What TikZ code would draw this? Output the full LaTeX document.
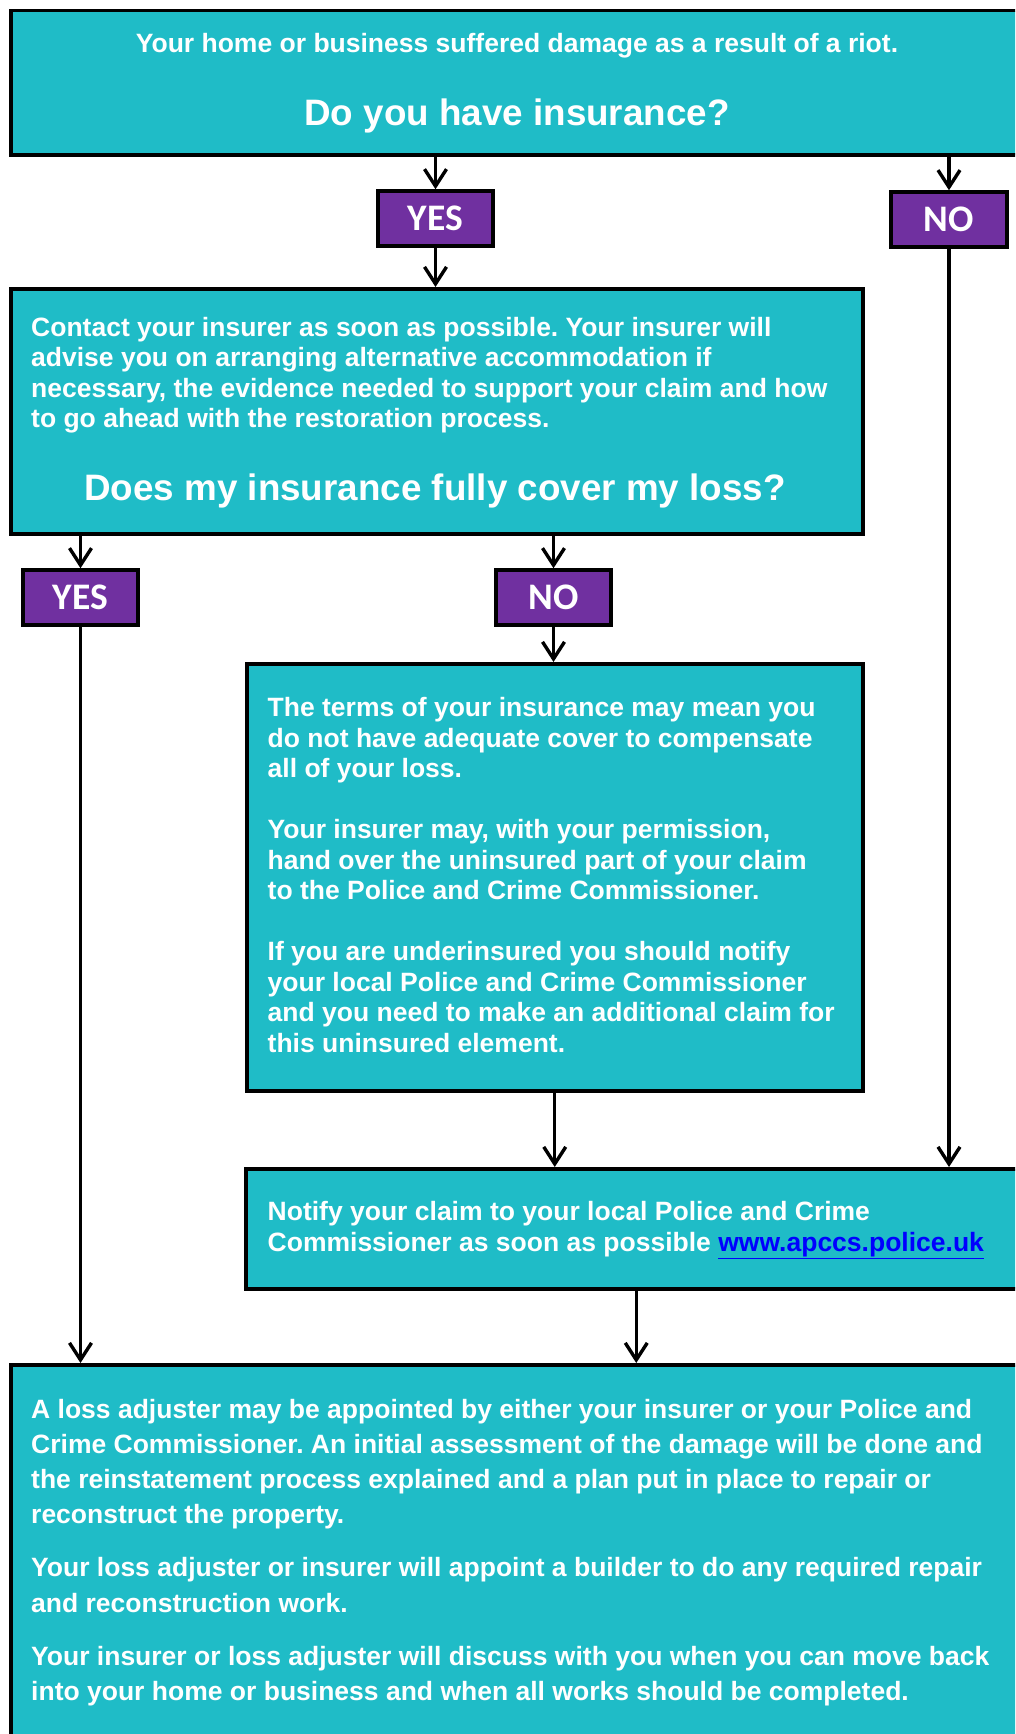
\documentclass[tikz,border=0pt]{standalone}
\usepackage{fontspec}
\setmainfont{Liberation Sans}
\newfontfamily\calibfont{Carlito}
\usetikzlibrary{arrows.meta}
\definecolor{tealbox}{RGB}{31,188,199}
\definecolor{purp}{RGB}{112,48,160}
\definecolor{linkblue}{RGB}{0,0,255}
\newcommand{\bodyfont}[1]{\fontsize{26.5}{#1}\selectfont\bfseries}
\newcommand{\bigq}{\fontsize{36.8}{40}\selectfont\bfseries}
\frenchspacing
\begin{document}
\begin{tikzpicture}[x=1pt,y=-1pt,
  box/.style={draw=black, line width=3.5pt, fill=tealbox, anchor=north west, inner sep=0pt},
  yn/.style={draw=black, line width=3.5pt, fill=purp, text=white,
    font={\calibfont\bfseries\fontsize{37.5}{40}\selectfont},
    minimum width=115pt, minimum height=55pt, inner sep=0pt,
    text height=24pt, text depth=0pt},
  txt/.style={text=white, inner sep=0pt},
  arr/.style={line width=3.4pt, -{Straight Barb[length=17pt,width=22pt,line width=3.4pt]}}]
\useasboundingbox (0,0) rectangle (1015,1734);
\clip (0,0) rectangle (1015,1734);
\fill[white] (0,0) rectangle (1015,1734);

% boxes
\node[box, minimum width=1016pt, minimum height=144pt] (top) at (9,9) {};
\node[box, minimum width=852pt, minimum height=245pt] (mid) at (9,287) {};
\node[box, minimum width=616pt, minimum height=427pt] (terms) at (245,662) {};
\node[box, minimum width=781pt, minimum height=120pt] (notify) at (244,1167) {};
\node[box, minimum width=1016pt, minimum height=400pt] (bottom) at (9,1363) {};

\node[yn] (yes1) at (435.5,218.5) {YES};
\node[yn, minimum width=116pt] (no1) at (949,219.5) {NO};
\node[yn] (yes2) at (80.5,597.5) {YES};
\node[yn] (no2) at (553.5,597.5) {NO};

% texts
\node[txt, anchor=base] (t1) at (517,53) {\bodyfont{30}Your home or business suffered damage as a result of a riot.};
\node[txt, anchor=base] (q1) at (517,126) {\bigq Do you have insurance?};

\node[txt, anchor=base west] (t2) at (31,336.7) {\parbox[t]{840pt}{\raggedright\bodyfont{30.2}%
Contact your insurer as soon as possible. Your insurer will\\
advise you on arranging alternative accommodation if\\
necessary, the evidence needed to support your claim and how\\
to go ahead with the restoration process.}};
\node[txt, anchor=base] (q2) at (435,500.7) {\bigq Does my insurance fully cover my loss?};

\node[txt, anchor=base west] (t3) at (267.5,716.7) {\parbox[t]{600pt}{\raggedright\bodyfont{30.5}%
The terms of your insurance may mean you\\
do not have adequate cover to compensate\\
all of your loss.\\[30.5pt]
Your insurer may, with your permission,\\
hand over the uninsured part of your claim\\
to the Police and Crime Commissioner.\\[30.5pt]
If you are underinsured you should notify\\
your local Police and Crime Commissioner\\
and you need to make an additional claim for\\
this uninsured element.}};

\node[txt, anchor=base west] (t4) at (267.5,1220) {\parbox[t]{760pt}{\raggedright\bodyfont{31.5}%
Notify your claim to your local Police and Crime\\
Commissioner as soon as possible {\color{linkblue}\underline{www.apccs.police.uk}}}};

\node[txt, anchor=base west] (t5) at (31,1418) {\parbox[t]{990pt}{\raggedright\bodyfont{35.3}%
A loss adjuster may be appointed by either your insurer or your Police and\\
Crime Commissioner. An initial assessment of the damage will be done and\\
the reinstatement process explained and a plan put in place to repair or\\
reconstruct the property.\\[17.7pt]
Your loss adjuster or insurer will appoint a builder to do any required repair\\
and reconstruction work.\\[17.7pt]
Your insurer or loss adjuster will discuss with you when you can move back\\
into your home or business and when all works should be completed.}};

% connectors
\draw[arr] (top.south -| yes1) -- (yes1.north);
\draw[arr] (yes1.south) -- (yes1.south |- mid.north);
\draw[arr] (top.south -| no1) -- (no1.north);
\draw[arr] (no1.south) -- (no1.south |- notify.north);
\draw[arr] (mid.south -| yes2) -- (yes2.north);
\draw[arr] (yes2.south) -- (yes2.south |- bottom.north);
\draw[arr] (mid.south -| no2) -- (no2.north);
\draw[arr] (no2.south) -- (no2.south |- terms.north);
\draw[arr] (terms.south) -- (terms.south |- notify.north);
\draw[arr] (notify.south) -- (notify.south |- bottom.north);
\end{tikzpicture}
\end{document}
